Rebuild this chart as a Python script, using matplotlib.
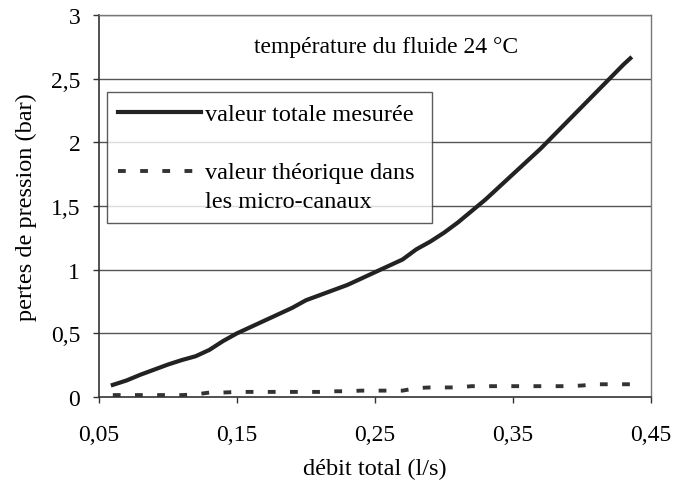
import numpy as np
import matplotlib.pyplot as plt
from matplotlib.ticker import FixedLocator, FuncFormatter
from matplotlib.legend_handler import HandlerLine2D

plt.rcParams['font.family'] = ['Liberation Serif', 'DejaVu Serif']

# débit total (l/s)
debit = [0.06, 0.07, 0.08, 0.09, 0.10, 0.11, 0.12, 0.13, 0.14, 0.15,
         0.16, 0.17, 0.18, 0.19, 0.20, 0.21, 0.22, 0.23, 0.24, 0.25,
         0.26, 0.27, 0.28, 0.29, 0.30, 0.31, 0.32, 0.33, 0.34, 0.35,
         0.36, 0.37, 0.38, 0.39, 0.40, 0.41, 0.42, 0.43, 0.435]

# pertes mesurées (bar)
mesure = [0.095, 0.13, 0.175, 0.215, 0.255, 0.29, 0.32, 0.37, 0.44, 0.50,
          0.55, 0.60, 0.65, 0.70, 0.76, 0.80, 0.84, 0.88, 0.93, 0.98,
          1.03, 1.08, 1.16, 1.22, 1.29, 1.37, 1.46, 1.55, 1.65, 1.75,
          1.85, 1.95, 2.06, 2.17, 2.28, 2.39, 2.50, 2.61, 2.66]

# pertes théoriques dans les micro-canaux (bar)
theorique = [0.015, 0.015, 0.015, 0.015, 0.015, 0.015, 0.02, 0.035, 0.035, 0.04,
             0.04, 0.04, 0.04, 0.04, 0.04, 0.04, 0.045, 0.045, 0.05, 0.05,
             0.05, 0.05, 0.07, 0.075, 0.075, 0.075, 0.085, 0.085, 0.085, 0.085,
             0.085, 0.085, 0.085, 0.085, 0.09, 0.10, 0.10, 0.10, 0.10]

xticks = [0.05, 0.15, 0.25, 0.35, 0.45]
yticks = [0, 0.5, 1, 1.5, 2, 2.5, 3]


def virgule(v, pos=None):
    s = f"{v:.2f}" if round(v, 2) != round(v, 1) else f"{v:g}"
    return s.replace('.', ',')


class HandlerPremiereLigne(HandlerLine2D):
    # place the legend line next to the first line of a two-line label
    def create_artists(self, legend, orig_handle, xdescent, ydescent,
                       width, height, fontsize, trans):
        return super().create_artists(legend, orig_handle, xdescent,
                                      ydescent - 1.25 * fontsize, width, height,
                                      fontsize, trans)


fig = plt.figure(figsize=(6.75, 4.85), dpi=100)
ax = fig.add_axes([0.1467, 0.1794, 0.8177, 0.7876])

for y in yticks[1:]:
    ax.axhline(y, color='#555555', lw=1.0, zorder=1)

l1, = ax.plot(debit, mesure, color='#222222', lw=3, label='valeur totale mesurée', zorder=3)
l2, = ax.plot(debit, theorique, color='#333333', lw=2.8, linestyle=(0, (2, 3.7)),
              label='valeur théorique dans\nles micro-canaux', zorder=3)

ax.set_xlim(0.05, 0.45)
ax.set_ylim(0, 3)
ax.xaxis.set_major_locator(FixedLocator(xticks))
ax.yaxis.set_major_locator(FixedLocator(yticks))
ax.xaxis.set_major_formatter(FuncFormatter(virgule))
ax.yaxis.set_major_formatter(FuncFormatter(virgule))
ax.tick_params(direction='out', length=4.5, width=1, labelsize=17, color='#333333')
ax.tick_params(axis='x', pad=15)
ax.tick_params(axis='y', pad=9)

for side in ['top', 'right']:
    ax.spines[side].set_color('#777777')
    ax.spines[side].set_linewidth(1.0)
for side in ['left', 'bottom']:
    ax.spines[side].set_color('#333333')
    ax.spines[side].set_linewidth(1.2)

ax.set_xlabel('débit total (l/s)', fontsize=17.5, labelpad=9)
ax.set_ylabel('pertes de pression (bar)', fontsize=17.5, labelpad=10)

ax.text(0.52, 0.918, 'température du fluide 24 °C', transform=ax.transAxes,
        ha='center', va='center', fontsize=17)

leg = ax.legend(handles=[l1, l2], loc='upper left',
                bbox_to_anchor=(0.0145, 0.0, 0.589, 0.798), mode='expand',
                fontsize=17.5, handlelength=3.4, handletextpad=0.2,
                labelspacing=1.5, borderpad=0.45, frameon=True, fancybox=False,
                borderaxespad=0, handler_map={l2: HandlerPremiereLigne()})
leg.get_texts()[1].set_linespacing(1.5)
leg.get_frame().set_edgecolor('#333333')
leg.get_frame().set_linewidth(1.0)

fig.savefig('out.png', dpi=100)
